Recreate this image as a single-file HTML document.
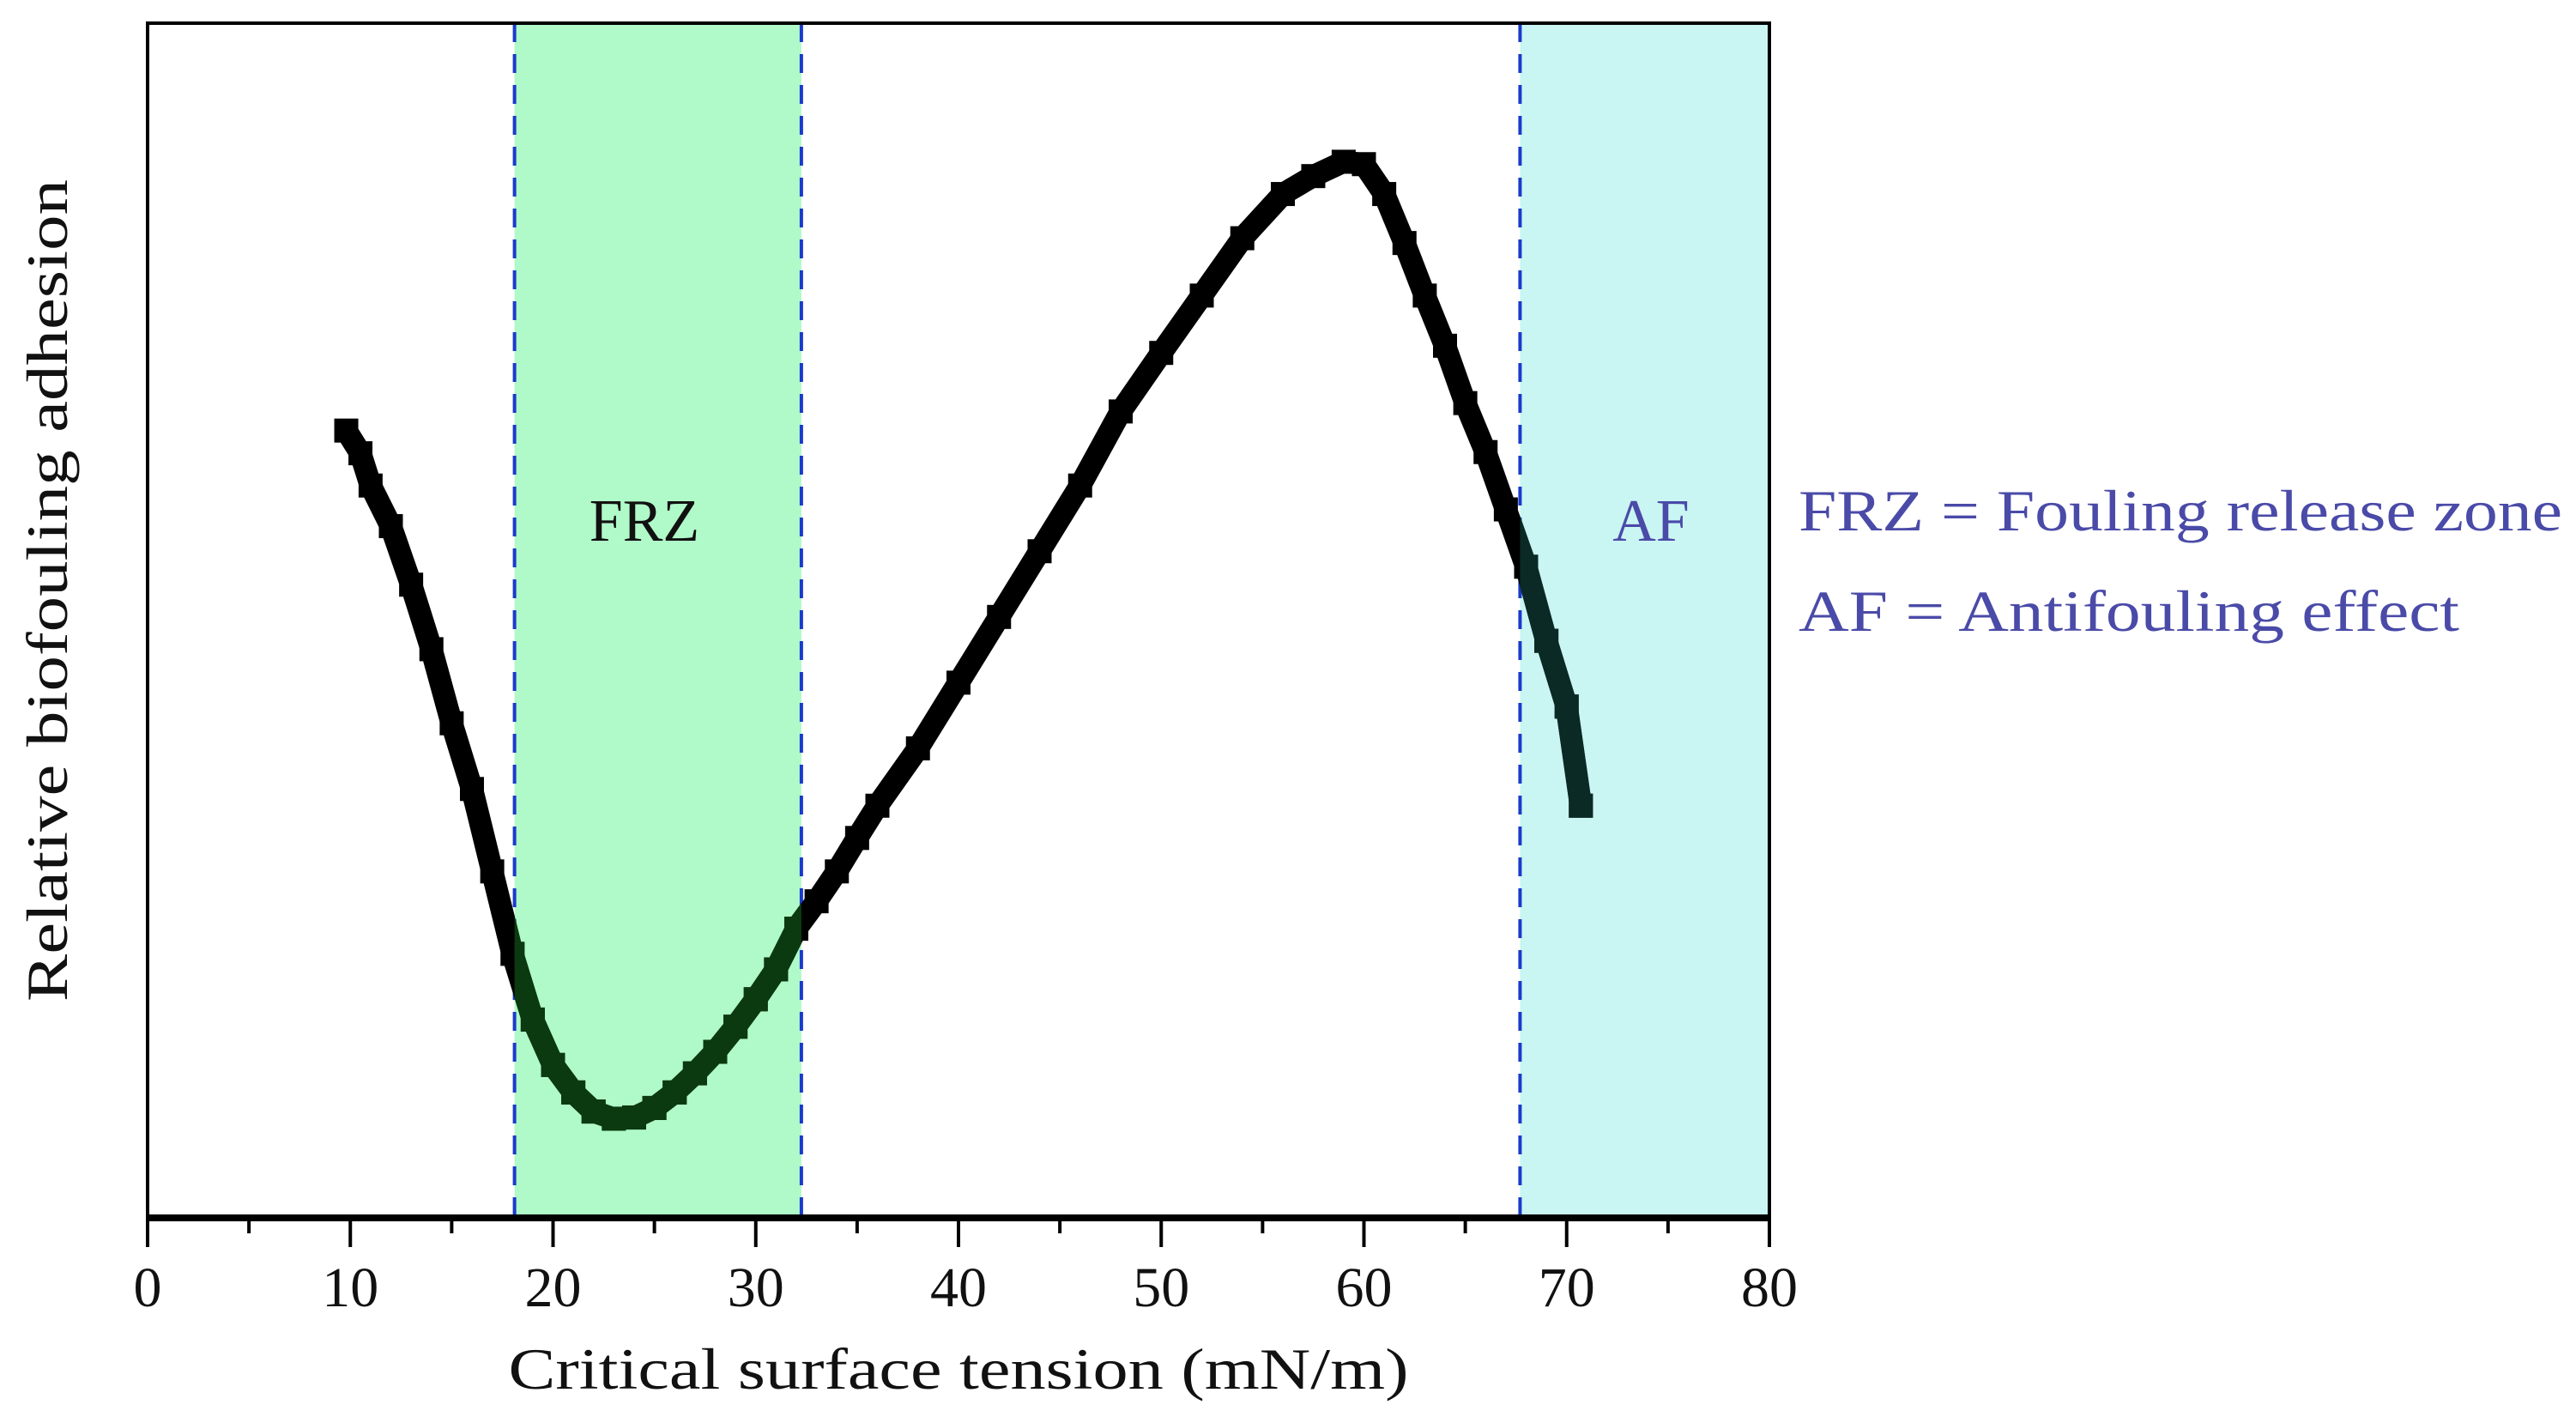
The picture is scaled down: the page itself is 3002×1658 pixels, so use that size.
<!DOCTYPE html>
<html><head><meta charset="utf-8"><style>
html,body{margin:0;padding:0;background:#fff;}
svg{display:block;}
text{font-family:"Liberation Serif",serif;}
</style></head><body>
<svg id="chart" width="3002" height="1658" viewBox="0 0 3002 1658" xmlns="http://www.w3.org/2000/svg">
<defs>
<clipPath id="frzClip"><rect id="frzClipRect" x="0" y="0" width="0" height="1658"/></clipPath>
<clipPath id="afClip"><rect id="afClipRect" x="0" y="0" width="0" height="1658"/></clipPath>
</defs>
<g id="zones"></g>
<g id="curve"></g>
<g id="axes"></g>
<text x="751" y="630" font-size="70" text-anchor="middle" fill="#111">FRZ</text>
<text x="1924" y="630" font-size="70" text-anchor="middle" fill="#4a4aa8">AF</text>
<text x="2096" y="618" font-size="68" fill="#4a4aa8" textLength="890" lengthAdjust="spacingAndGlyphs">FRZ = Fouling release zone</text>
<text x="2096" y="735" font-size="68" fill="#4a4aa8" textLength="770" lengthAdjust="spacingAndGlyphs">AF = Antifouling effect</text>
<text x="1117" y="1618" font-size="68" text-anchor="middle" fill="#111" textLength="1049" lengthAdjust="spacingAndGlyphs">Critical surface tension (mN/m)</text>
<text transform="translate(78,688) rotate(-90)" font-size="68" text-anchor="middle" fill="#111" textLength="958" lengthAdjust="spacingAndGlyphs">Relative biofouling adhesion</text>
</svg>
<script>
const xs = [9.8,10.5,11,12,13,14,15,16,17,18,19,20,21,22,23,24,25,26,27,28,29,30,31,32,33,34,35,36,38,40,42,44,46,48,50,52,54,56,57.5,59,60,61,62,63,64,65,66,67,68,69,70,70.7];
const ys = [65.9,64,61.3,57.9,53,47.6,41.4,35.9,29,22.1,16.6,12.8,10.5,8.9,8.3,8.4,9.2,10.5,12.1,13.9,16,18.3,20.8,24.2,26.5,29,31.8,34.5,39.3,44.8,50.3,55.8,61.3,67.5,72.4,77.2,82,85.7,87.2,88.4,88.2,85.7,81.6,77.2,73,68.2,64.1,59.3,54.5,48.3,42.8,34.5];
const xTicks = [0,10,20,30,40,50,60,70,80];
const frzZone = [18.1,32.25];
const afZone = [67.7,80];

const NS="http://www.w3.org/2000/svg";
const L=172,R=2062,T=27,B=1419;
const X=v=>L+(v-0)/(80-0)*(R-L);
const Y=v=>B-(v-0)/(100-0)*(B-T);
function mk(tag,attrs,parent){const e=document.createElementNS(NS,tag);for(const k in attrs)e.setAttribute(k,attrs[k]);parent.appendChild(e);return e;}
const zones=document.getElementById('zones'),curve=document.getElementById('curve'),axes=document.getElementById('axes');

const fz=mk('rect',{x:X(frzZone[0]),y:T,width:X(frzZone[1])-X(frzZone[0]),height:B-T,fill:'#b0f9c8'},zones);


const az=mk('rect',{x:X(afZone[0]),y:T,width:X(afZone[1])-X(afZone[0]),height:B-T,fill:'#c9f5f3'},zones);


[frzZone[0],frzZone[1],afZone[0]].forEach(v=>{
  const d=mk('line',{x1:X(v),x2:X(v),y1:T,y2:B,stroke:'#1a3acc','stroke-width':4,'stroke-dasharray':'22 14'},zones);
  
  
});
document.getElementById('frzClipRect').setAttribute('x',X(frzZone[0]));
document.getElementById('frzClipRect').setAttribute('width',X(frzZone[1])-X(frzZone[0]));
document.getElementById('afClipRect').setAttribute('x',X(afZone[0]));
document.getElementById('afClipRect').setAttribute('width',X(afZone[1])-X(afZone[0]));

function drawCurve(color,clip){
  const g=mk('g',clip?{'clip-path':'url(#'+clip+')'}:{},curve);
  const pts=xs.map((x,i)=>X(x)+','+Y(ys[i])).join(' ');
  const pl=mk('polyline',{points:pts,fill:'none',stroke:color,'stroke-width':26,'stroke-linejoin':'round'},g);
  
  
  xs.forEach((x,i)=>{
    const s=mk('rect',{x:X(x)-14,y:Y(ys[i])-14,width:28,height:28,fill:color},g);
    
    
  });
}
drawCurve('#000',null);
drawCurve('#0b3a10','frzClip');
drawCurve('#0b2a26','afClip');

const fr=mk('rect',{x:L,y:T,width:R-L,height:B-T,fill:'none',stroke:'#000','stroke-width':4},axes);


const xa=mk('line',{x1:L-2,x2:R+2,y1:B,y2:B,stroke:'#000','stroke-width':8},axes);


for(let v=0;v<=80;v+=5){
  const major=v%10===0;
  const t=mk('line',{x1:X(v),x2:X(v),y1:B,y2:B+(major?34:18),stroke:'#000','stroke-width':4},axes);
  
  
}
xTicks.forEach(v=>{
  const t=mk('text',{x:X(v),y:1522,'font-size':66,'text-anchor':'middle',fill:'#111'},axes);
  t.textContent=v;
  
  
});
</script>
</body></html>
